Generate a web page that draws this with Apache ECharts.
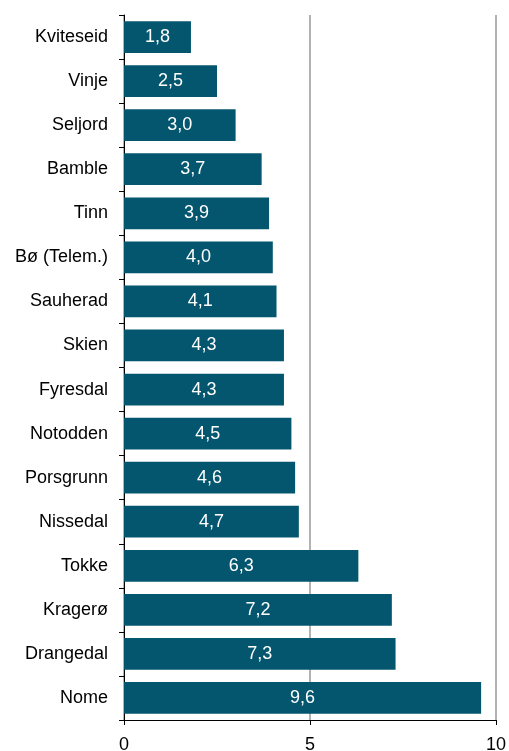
<!DOCTYPE html>
<html><head><meta charset="utf-8">
<script src="https://cdn.jsdelivr.net/npm/echarts@6/dist/echarts.min.js"></script>
<style>html,body{margin:0;padding:0;background:#fff}#c{width:509px;height:751px}</style>
</head><body><div id="c"></div>
<script>
const categories = ["Kviteseid","Vinje","Seljord","Bamble","Tinn","Bø (Telem.)","Sauherad","Skien","Fyresdal","Notodden","Porsgrunn","Nissedal","Tokke","Kragerø","Drangedal","Nome"];
const values = [1.8,2.5,3.0,3.7,3.9,4.0,4.1,4.3,4.3,4.5,4.6,4.7,6.3,7.2,7.3,9.6];
const xTicks = [0,5,10];
const font = "Liberation Sans, Arial, sans-serif";
const chart = echarts.init(document.getElementById('c'), null, {renderer:'canvas'});
chart.setOption({
  animation:false,
  grid:{left:124,right:13,top:15,bottom:31,containLabel:false,outerBoundsMode:'none'},
  xAxis:{type:'value',min:0,max:10,interval:5,
    axisLine:{show:true,lineStyle:{color:'#000',width:1}},
    axisTick:{show:true,length:5,lineStyle:{color:'#000'}},
    axisLabel:{color:'#000',fontSize:18,fontFamily:font,margin:16,formatter:v=>xTicks.includes(v)?String(v):''},
    splitLine:{show:true,lineStyle:{color:'#999',width:1.5}}},
  yAxis:{type:'category',data:categories,inverse:true,
    axisLine:{show:true,lineStyle:{color:'#000',width:1}},
    axisTick:{show:true,length:5,lineStyle:{color:'#000'}},
    axisLabel:{color:'#000',fontSize:18,fontFamily:font,margin:16}},
  series:[{type:'bar',data:values,barCategoryGap:'28%',
    itemStyle:{color:'#03566E'},
    label:{show:true,position:'inside',color:'#fff',fontSize:18,fontFamily:font,
      formatter:p=>p.value.toFixed(1).replace('.',',')}}]
});
</script></body></html>
